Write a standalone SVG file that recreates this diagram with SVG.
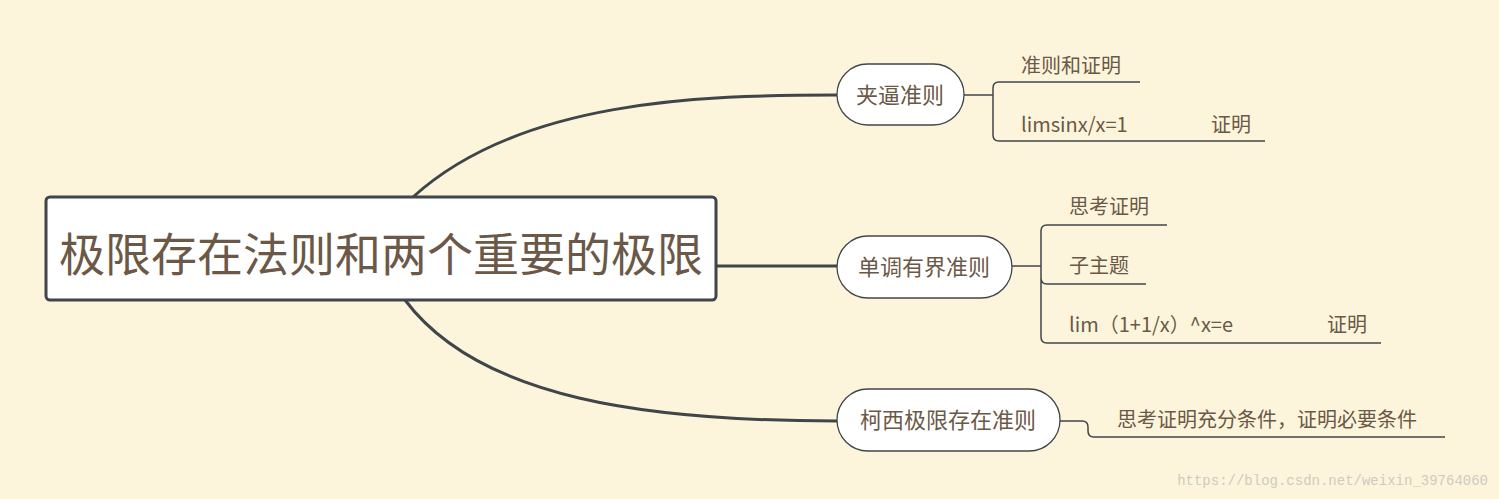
<svg xmlns="http://www.w3.org/2000/svg" width="1499" height="499" viewBox="0 0 1499 499">
<style>
.t{font-family:"Noto Sans CJK SC","Noto Sans",sans-serif;fill:#6b5846}
.n{fill:#fff;stroke:#3f4549;stroke-width:1.3}
.c{fill:none;stroke:#3f4549;stroke-width:3}
.s{fill:none;stroke:#3f4549;stroke-width:1.5}
</style>
<rect width="1499" height="499" fill="#fcf5dc"/>
<g id="connectors">
<path class="c" d="M413 197 C520 100 700 95 837 95"/>
<path class="c" d="M716 266 L837 266"/>
<path class="c" d="M405 300 C480 400 650 421 837 421"/>
<path class="s" d="M964 95 H993 M1140 82 H999 Q993 82 993 88 V135 Q993 141 999 141 H1265"/>
<path class="s" d="M1012 266 H1041 M1167 225 H1047 Q1041 225 1041 231 V278 Q1041 284 1047 284 H1146 M1041 278 V337 Q1041 343 1047 343 H1381"/>
<path class="s" d="M1060 421 H1082 Q1088 421 1088 427 V431 Q1088 437 1094 437 H1445"/>
</g>
<g id="root">
<rect x="46" y="197" width="670" height="103" rx="4" fill="#fff" stroke="#3f4549" stroke-width="3"/>
<text class="t" x="381" y="271" font-size="46" text-anchor="middle">极限存在法则和两个重要的极限</text>
</g>
<g id="n1">
<rect class="n" x="837" y="64" width="127" height="61" rx="30.5"/>
<text class="t" x="900" y="103" font-size="22" text-anchor="middle">夹逼准则</text>
</g>
<g id="n2">
<rect class="n" x="837" y="236" width="175" height="62" rx="31"/>
<text class="t" x="924" y="275" font-size="22" text-anchor="middle">单调有界准则</text>
</g>
<g id="n3">
<rect class="n" x="837" y="389" width="223" height="62" rx="31"/>
<text class="t" x="948" y="428" font-size="22" text-anchor="middle">柯西极限存在准则</text>
</g>
<g id="leaves" font-size="20">
<text class="t" x="1021" y="73" font-size="20">准则和证明</text>
<text class="t" x="1021" y="132" font-size="20">limsinx/x=1</text>
<text class="t" x="1211" y="132" font-size="20">证明</text>
<text class="t" x="1069" y="214" font-size="20">思考证明</text>
<text class="t" x="1069" y="273" font-size="20">子主题</text>
<text class="t" x="1069" y="332" font-size="20">lim（1+1/x）^x=e</text>
<text class="t" x="1327" y="332" font-size="20">证明</text>
<text class="t" x="1117" y="427" font-size="20">思考证明充分条件，证明必要条件</text>
</g>
<text x="1488" y="485" font-size="14" text-anchor="end" font-family="Liberation Mono,monospace" fill="#cfcac0">https://blog.csdn.net/weixin_39764060</text>
</svg>
